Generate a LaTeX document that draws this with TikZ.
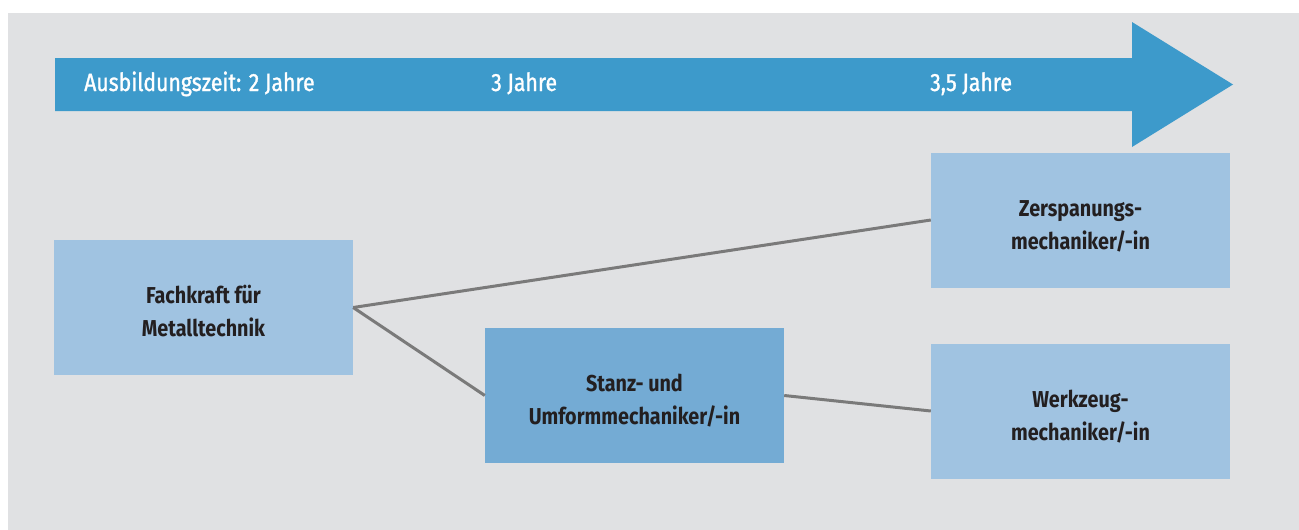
\documentclass[tikz,border=0pt]{standalone}
\usepackage{fontspec}
\setmainfont{Fira Sans}[FakeStretch=0.86]
\newfontfamily\scalefont{Fira Sans}[FakeStretch=0.85, FakeBold=1.2]
\newcommand\jobstrut{\rule{0pt}{25pt}}
\definecolor{panel}{HTML}{E0E1E3}
\definecolor{arrowblue}{HTML}{3D9ACB}
\definecolor{lightbox}{HTML}{A0C3E1}
\definecolor{midbox}{HTML}{74ABD4}
\definecolor{linkgray}{HTML}{7A7A7A}
\definecolor{ink}{HTML}{231F20}
\tikzset{
  job/.style={fill=lightbox, minimum width=299pt, minimum height=135pt,
    inner sep=0pt, align=center, text=ink, text depth=0pt,
    font=\fontsize{23}{33}\selectfont\bfseries},
  jobmid/.style={job, fill=midbox},
  timelabel/.style={anchor=base west, text=white, inner sep=0pt,
    font=\scalefont\fontsize{25}{28}\selectfont},
  link/.style={draw=linkgray, line width=3pt}
}
\begin{document}
\begin{tikzpicture}[x=1pt, y=-1pt]
  \useasboundingbox (0,0) rectangle (1299,530);
  % grey panel
  \fill[panel] (8,13) rectangle (1299,530);
  % time arrow
  \fill[arrowblue] (55,58) -- (1132,58) -- (1132,22) -- (1233,84.5)
    -- (1132,147) -- (1132,111) -- (55,111) -- cycle;
  \node[timelabel] (t2) at (84,91) {Ausbildungszeit: 2 Jahre};
  \node[timelabel] (t3) at (491,91) {3 Jahre};
  \node[timelabel] (t35) at (930,91) {3,5 Jahre};
  % occupations
  \node[job] (fach) at (203.5,307.5) {\jobstrut Fachkraft für\\Metalltechnik};
  \node[jobmid] (stanz) at (634.5,395.5) {\jobstrut Stanz- und\\Umformmechaniker/-in};
  \node[job] (zer) at (1080.5,220) {\jobstrut Zerspanungs-\\mechaniker/-in};
  \node[job] (werk) at (1080.5,411) {\jobstrut Werkzeug-\\mechaniker/-in};
  % pathways
  \draw[link] (fach.east) -- (zer.west);
  \draw[link] (fach.east) -- (stanz.west);
  \draw[link] (stanz.east) -- (werk.west);
\end{tikzpicture}
\end{document}
